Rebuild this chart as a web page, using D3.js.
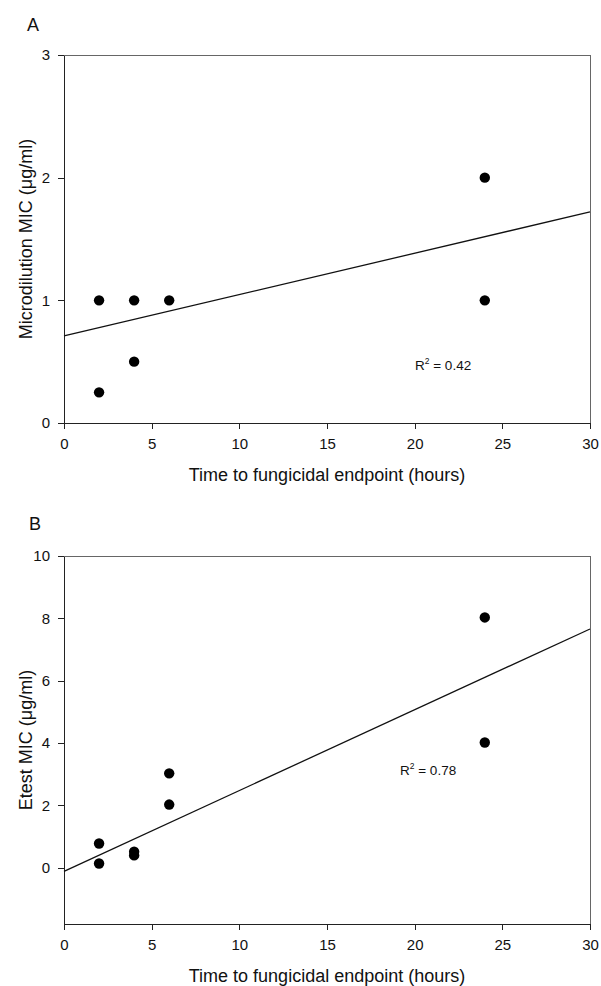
<!DOCTYPE html>
<meta charset="utf-8">
<style>
body { margin: 0; background: #fff; }
svg text { font-family: "Liberation Sans", Arial, sans-serif; fill: #111; }
.axis path, .axis line { stroke: #222; shape-rendering: crispEdges; }
.frame { stroke: #666; fill: none; shape-rendering: crispEdges; }
</style>
<svg width="601" height="986"></svg>
<script src="https://cdnjs.cloudflare.com/ajax/libs/d3/7.8.5/d3.min.js"></script>
<script>

// panel A: microdilution MIC vs time to fungicidal endpoint
var hoursA = [2, 4, 6, 2, 4, 24, 24];
var micA = [1, 1, 1, 0.25, 0.5, 2, 1];
var fitA = [0.71, 0.0337];   // intercept, slope
var yTicksA = [0, 1, 2, 3];

// panel B: Etest MIC
var hoursB = [2, 2, 4, 4, 6, 6, 24, 24];
var micB = [0.78, 0.14, 0.52, 0.4, 3.03, 2.03, 8.03, 4.02];
var fitB = [-0.11, 0.259];
var yTicksB = [0, 2, 4, 6, 8, 10];

var xTicks = [0, 5, 10, 15, 20, 25, 30];

var svg = d3.select("svg");

function panel(o) {
  var x = d3.scaleLinear().domain([0, 30]).range([64, 590]);
  var y = d3.scaleLinear().domain(o.ydom).range([o.bottom, o.top]);
  var g = svg.append("g");

  // frame top + right
  g.append("path").attr("class", "frame")
    .attr("d", "M" + x(0) + "," + y(o.ydom[1]) + "H" + x(30) + "V" + y(o.ydom[0]));

  g.append("g").attr("class", "axis")
    .attr("transform", "translate(0," + y(o.ydom[0]) + ")")
    .call(d3.axisBottom(x).tickValues(xTicks).tickFormat(d3.format("d"))
      .tickSize(6).tickSizeOuter(0).tickPadding(9))
    .selectAll("text").style("font-size", "15px");

  g.append("g").attr("class", "axis")
    .attr("transform", "translate(" + x(0) + ",0)")
    .call(d3.axisLeft(y).tickValues(o.yticks).tickFormat(d3.format("d"))
      .tickSize(6).tickSizeOuter(0).tickPadding(8))
    .selectAll("text").style("font-size", "15px");

  // regression line
  g.append("line")
    .attr("x1", x(0)).attr("y1", y(o.fit[0]))
    .attr("x2", x(30)).attr("y2", y(o.fit[0] + o.fit[1] * 30))
    .attr("stroke", "#111").attr("stroke-width", 1.3);

  g.selectAll("circle").data(o.xs).enter().append("circle")
    .attr("cx", function(d) { return x(d); })
    .attr("cy", function(d, i) { return y(o.ys[i]); })
    .attr("r", 5.2)
    .attr("fill", "#000");

  g.append("text").attr("x", o.labelX).attr("y", o.labelY)
    .style("font-size", "18px").text(o.letter);

  var r2 = g.append("text").attr("x", o.r2x).attr("y", o.r2y).style("font-size", "13.5px");
  r2.append("tspan").text("R");
  r2.append("tspan").attr("dy", -6).style("font-size", "8.5px").text("2");
  r2.append("tspan").attr("dy", 6).text(" = " + o.r2);

  g.append("text")
    .attr("transform", "translate(32," + ((o.top + o.bottom) / 2) + ") rotate(-90)")
    .attr("text-anchor", "middle").style("font-size", "18px")
    .text(o.ylabel);

  g.append("text").attr("x", 327).attr("y", o.bottom + 58)
    .attr("text-anchor", "middle").style("font-size", "18px")
    .text("Time to fungicidal endpoint (hours)");
}

panel({ letter: "A", labelX: 27, labelY: 31, top: 55, bottom: 423, ydom: [0, 3], yticks: yTicksA,
  xs: hoursA, ys: micA, fit: fitA, r2: "0.42", r2x: 415, r2y: 370,
  ylabel: "Microdilution MIC (\u03bcg/ml)" });

panel({ letter: "B", labelX: 29, labelY: 530, top: 556, bottom: 924, ydom: [-1.8, 10], yticks: yTicksB,
  xs: hoursB, ys: micB, fit: fitB, r2: "0.78", r2x: 400, r2y: 775,
  ylabel: "Etest MIC (\u03bcg/ml)" });

</script>
